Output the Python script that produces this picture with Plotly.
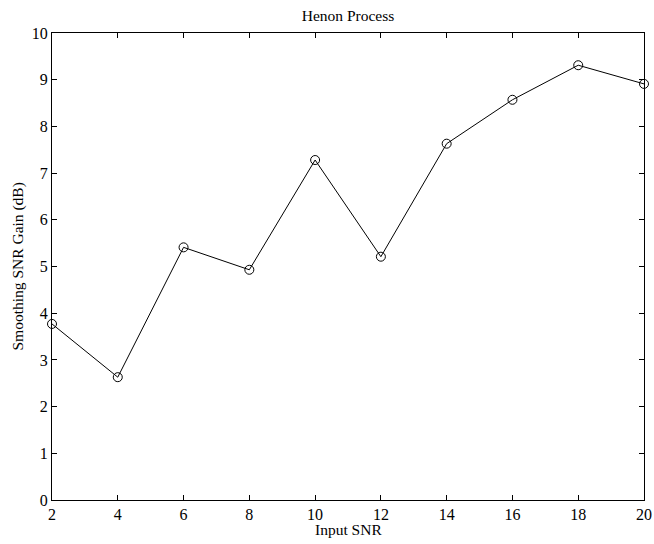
import plotly.graph_objects as go

input_snr = [2, 4, 6, 8, 10, 12, 14, 16, 18, 20]
gain_db = [3.77, 2.63, 5.41, 4.93, 7.28, 5.21, 7.63, 8.57, 9.31, 8.91]
x_ticks = [2, 4, 6, 8, 10, 12, 14, 16, 18, 20]
y_ticks = [0, 1, 2, 3, 4, 5, 6, 7, 8, 9, 10]

font = "Liberation Serif, Times New Roman, serif"

fig = go.Figure(go.Scatter(
    x=input_snr, y=gain_db, mode="lines+markers",
    line=dict(color="black", width=1),
    marker=dict(symbol="circle-open", size=9, color="black", line=dict(width=1)),
    cliponaxis=False, hoverinfo="skip",
))

axis_common = dict(
    showgrid=False, zeroline=False, showline=True, linecolor="black", linewidth=1,
    mirror="ticks", ticks="inside", ticklen=5, tickcolor="black", tickwidth=1,
    tickfont=dict(family=font, size=16, color="black"), automargin=False,
)
fig.update_xaxes(range=[2, 20], tickvals=x_ticks, **axis_common)
fig.update_yaxes(range=[0, 10], tickvals=y_ticks, **axis_common)

fig.update_layout(
    width=654, height=544,
    margin=dict(l=52, r=10, t=33, b=44),
    paper_bgcolor="white", plot_bgcolor="white",
    showlegend=False,
    title=dict(text="Henon Process", x=0.5, xref="paper", xanchor="center",
               y=0.982, yref="container", yanchor="top",
               font=dict(family=font, size=15.5, color="black")),
    annotations=[
        dict(text="Input SNR", x=0.5, y=0, xref="paper", yref="paper",
             xanchor="center", yanchor="middle", yshift=-29, showarrow=False,
             font=dict(family=font, size=15.5, color="black")),
        dict(text="Smoothing SNR Gain (dB)", x=0, y=0.5, xref="paper", yref="paper",
             xanchor="center", yanchor="middle", xshift=-35, textangle=-90, showarrow=False,
             font=dict(family=font, size=15.5, color="black")),
    ],
)

fig.write_html("out.html", config={"displayModeBar": False},
               post_script="document.body.style.margin='0';document.body.style.overflow='hidden';")
